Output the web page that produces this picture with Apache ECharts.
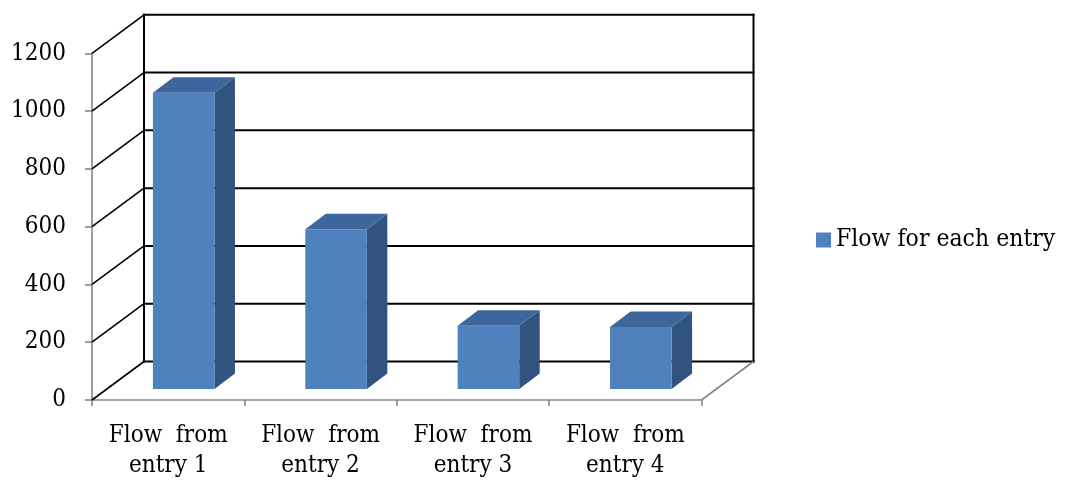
<!DOCTYPE html>
<html>
<head>
<meta charset="utf-8">
<style>
  html, body { margin: 0; padding: 0; background: #fff; }
  #chart { width: 1065px; height: 480px; }
</style>
<script src="https://cdn.jsdelivr.net/npm/echarts@6/dist/echarts.min.js"></script>
</head>
<body>
<div id="chart"></div>
<script>
// Categories and values of the chart
const categories = ['Flow  from\nentry 1', 'Flow  from\nentry 2', 'Flow  from\nentry 3', 'Flow  from\nentry 4'];
const flowValues = [1025, 553, 219, 215];
const valueTicks = [0, 200, 400, 600, 800, 1000, 1200];
const seriesName = 'Flow for each entry';

// 3D look: depth of the floor/walls and of each bar (pixels)
const WALL_DX = 52, WALL_DY = 38.5;
const BAR_OFF_X = 15.5, BAR_OFF_Y = 11;
const BAR_DX = 20.5, BAR_DY = 15.5;
const BAR_RATIO = 0.404;

const FONT = '"DejaVu Serif Condensed", "DejaVu Serif", serif';
const FONT_SIZE = 24;
const AXIS_GREY = '#868686';

const yMin = valueTicks[0];
const yMax = valueTicks[valueTicks.length - 1];
const yStep = valueTicks[1] - valueTicks[0];

// Back wall, left wall edges and floor outline
function renderWalls(params, api) {
  const cs = params.coordSys;
  const v = api.value(1);
  const y = api.coord([0, v])[1];
  const left = cs.x, right = cs.x + cs.width;
  const children = [
    { type: 'line', shape: { x1: left + WALL_DX, y1: y - WALL_DY, x2: right + WALL_DX, y2: y - WALL_DY },
      style: { stroke: '#000', lineWidth: 2, lineCap: 'square' } },
    { type: 'line', shape: { x1: left, y1: y, x2: left + WALL_DX, y2: y - WALL_DY },
      style: { stroke: '#000', lineWidth: 1.6 } }
  ];
  if (params.dataIndex === 0) {
    const top = api.coord([0, yMax])[1];
    children.push(
      { type: 'line', shape: { x1: left + WALL_DX, y1: top - WALL_DY, x2: left + WALL_DX, y2: y - WALL_DY },
        style: { stroke: '#000', lineWidth: 2, lineCap: 'square' } },
      { type: 'line', shape: { x1: right + WALL_DX, y1: top - WALL_DY, x2: right + WALL_DX, y2: y - WALL_DY },
        style: { stroke: '#000', lineWidth: 2, lineCap: 'square' } },
      { type: 'line', shape: { x1: right, y1: y, x2: right + WALL_DX, y2: y - WALL_DY },
        style: { stroke: AXIS_GREY, lineWidth: 1.6 } }
    );
  }
  return { type: 'group', children: children };
}

// Box-shaped bars: front face, top and right side
function renderBar(params, api) {
  const i = api.value(0);
  const v = api.value(1);
  const base = api.coord([i, 0]);
  const topPt = api.coord([i, v]);
  const band = api.size([1, 0])[0];
  const w = band * BAR_RATIO;
  const x0 = base[0] - w / 2 + BAR_OFF_X;
  const x1 = x0 + w;
  const yb = base[1] - BAR_OFF_Y;
  const yt = topPt[1] - BAR_OFF_Y;
  return {
    type: 'group',
    children: [
      { type: 'polygon', shape: { points: [[x1, yt], [x1 + BAR_DX, yt - BAR_DY], [x1 + BAR_DX, yb - BAR_DY], [x1, yb]] },
        style: { fill: '#30537F' } },
      { type: 'polygon', shape: { points: [[x0, yt], [x1, yt], [x1 + BAR_DX, yt - BAR_DY], [x0 + BAR_DX, yt - BAR_DY]] },
        style: { fill: '#3D679C' } },
      { type: 'rect', shape: { x: x0, y: yt, width: w, height: yb - yt },
        style: { fill: '#4F81BD' } }
    ]
  };
}

const chart = echarts.init(document.getElementById('chart'), null, { renderer: 'canvas' });
chart.setOption({
  animation: false,
  backgroundColor: '#fff',
  textStyle: { fontFamily: FONT },
  grid: { left: 92, right: 363.5, top: 53.3, bottom: 80, containLabel: false, outerBoundsMode: 'none' },
  legend: {
    data: [seriesName],
    left: 811,
    top: 'middle',
    icon: 'rect',
    itemWidth: 15,
    itemHeight: 15,
    textStyle: { fontFamily: FONT, fontSize: 24.5, color: '#000' }
  },
  xAxis: {
    type: 'category',
    data: categories,
    boundaryGap: true,
    axisLine: { show: true, lineStyle: { color: AXIS_GREY, width: 1.6 } },
    axisTick: { show: true, length: 6, alignWithLabel: false, lineStyle: { color: AXIS_GREY, width: 1.6 } },
    axisLabel: { color: '#000', fontFamily: FONT, fontSize: FONT_SIZE, lineHeight: 30, margin: 21, interval: 0 },
    splitLine: { show: false }
  },
  yAxis: {
    type: 'value',
    min: yMin,
    max: yMax,
    interval: yStep,
    axisLine: { show: true, lineStyle: { color: AXIS_GREY, width: 1.6 } },
    axisTick: { show: true, length: 7, lineStyle: { color: AXIS_GREY, width: 1.6 } },
    axisLabel: { color: '#000', fontFamily: FONT, fontSize: FONT_SIZE, margin: 26, padding: [8, 0, 0, 0], formatter: v => String(v) },
    splitLine: { show: false }
  },
  series: [
    {
      type: 'custom',
      name: 'walls',
      silent: true,
      clip: false,
      renderItem: renderWalls,
      data: valueTicks.map(v => [0, v]),
      z: 1
    },
    {
      type: 'custom',
      name: seriesName,
      clip: false,
      itemStyle: { color: '#4F81BD' },
      renderItem: renderBar,
      data: flowValues.map((v, i) => [i, v]),
      z: 2
    }
  ]
});
</script>
</body>
</html>
